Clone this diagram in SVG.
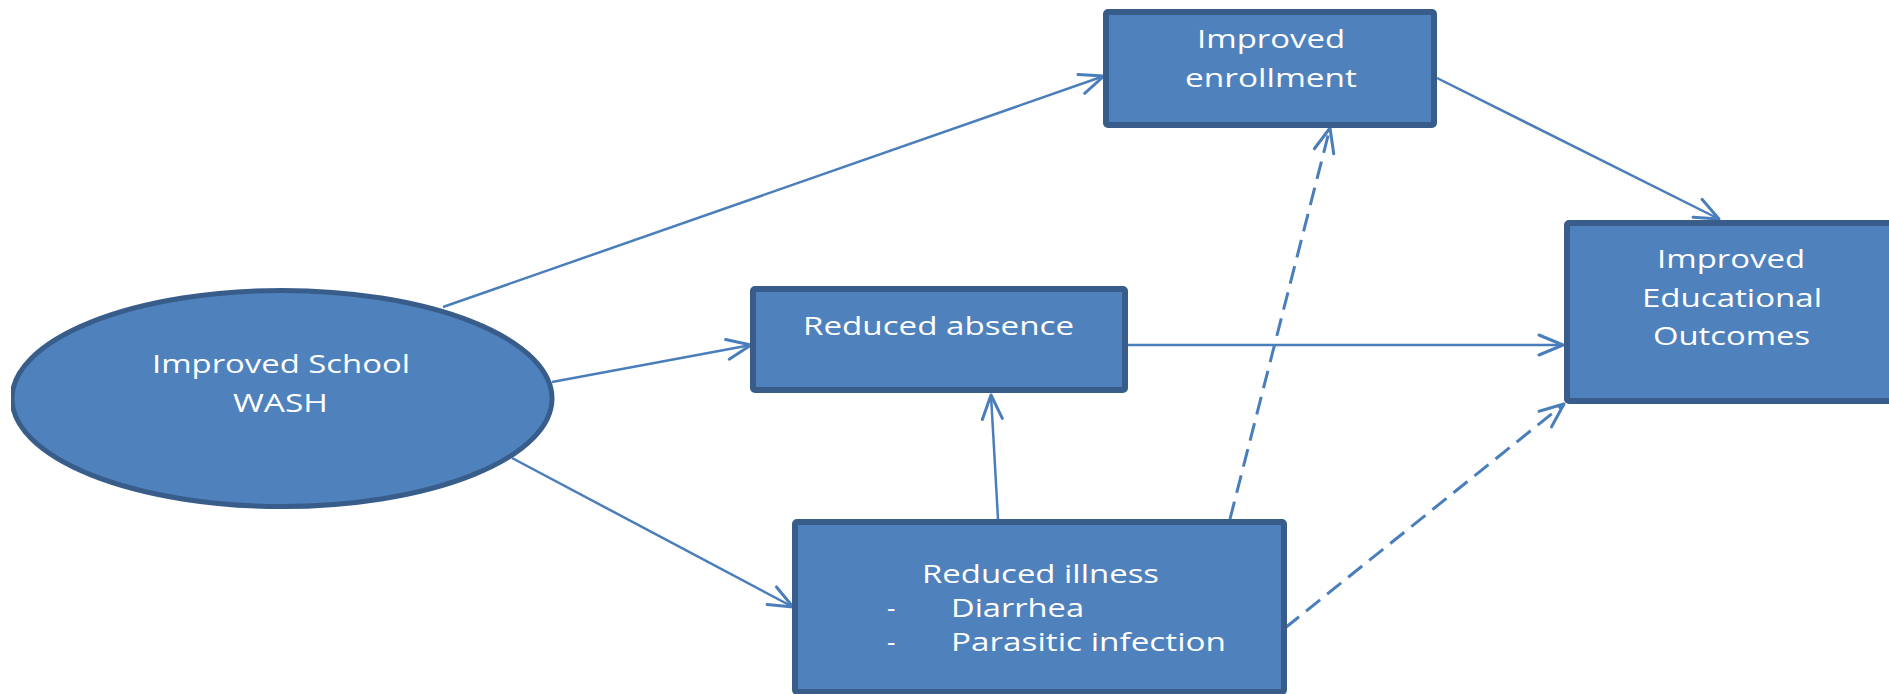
<svg xmlns="http://www.w3.org/2000/svg" width="1889" height="694" viewBox="0 0 1889 694">
<defs>
<style>
.node{fill:#4f81bd;stroke:#385d8a;stroke-width:6}
.ell{fill:#4f81bd;stroke:#385d8a;stroke-width:5}
.lbl{font-family:"Open Sans","DejaVu Sans",sans-serif;font-size:26px;fill:#ffffff}
.con{fill:none;stroke:#4a7ebb;stroke-width:2.5;marker-end:url(#arr)}
.dash{stroke-dasharray:18 9;stroke-width:3}
</style>
<marker id="arr" markerUnits="userSpaceOnUse" markerWidth="40" markerHeight="40" refX="0" refY="0" viewBox="-30 -20 40 40" orient="auto" overflow="visible">
<path d="M-24,-10 L0,0 L-24,10" fill="none" stroke="#4a7ebb" stroke-width="3" stroke-linecap="round" stroke-linejoin="round" stroke-dasharray="none"/>
</marker>
<clipPath id="clipL"><rect x="11" y="0" width="1878" height="694"/></clipPath>
</defs>
<rect width="1889" height="694" fill="#ffffff"/>
<g id="connectors">
<line class="con" x1="443" y1="307" x2="1104" y2="76"/>
<line class="con" x1="552" y1="382" x2="751" y2="345"/>
<line class="con" x1="512" y1="458" x2="793" y2="607"/>
<line class="con" x1="1128" y1="345" x2="1563" y2="345"/>
<line class="con" x1="1437" y1="78" x2="1719" y2="219"/>
<line class="con" x1="998" y1="519" x2="991" y2="395"/>
<line class="con dash" x1="1230" y1="519" x2="1330" y2="128"/>
<line class="con dash" x1="1285" y1="628" x2="1564" y2="404"/>
</g>
<g id="wash">
<ellipse class="ell" cx="282" cy="398.5" rx="270" ry="108" clip-path="url(#clipL)"/>
<text class="lbl" x="152" y="373" textLength="258" lengthAdjust="spacingAndGlyphs">Improved School</text>
<text class="lbl" x="233" y="412" textLength="95" lengthAdjust="spacingAndGlyphs">WASH</text>
</g>
<g id="enrollment">
<rect class="node" x="1106" y="12" width="328" height="113" rx="2"/>
<text class="lbl" x="1197" y="48" textLength="148" lengthAdjust="spacingAndGlyphs">Improved</text>
<text class="lbl" x="1185" y="87" textLength="172" lengthAdjust="spacingAndGlyphs">enrollment</text>
</g>
<g id="absence">
<rect class="node" x="753" y="289" width="372" height="101" rx="2"/>
<text class="lbl" x="803" y="335" textLength="271" lengthAdjust="spacingAndGlyphs">Reduced absence</text>
</g>
<g id="outcomes">
<rect class="node" x="1567" y="223" width="340" height="178" rx="2"/>
<text class="lbl" x="1657" y="268" textLength="148" lengthAdjust="spacingAndGlyphs">Improved</text>
<text class="lbl" x="1642" y="307" textLength="180" lengthAdjust="spacingAndGlyphs">Educational</text>
<text class="lbl" x="1653" y="345" textLength="157" lengthAdjust="spacingAndGlyphs">Outcomes</text>
</g>
<g id="illness">
<rect class="node" x="795" y="522" width="489" height="170" rx="2"/>
<text class="lbl" x="922" y="583" textLength="237" lengthAdjust="spacingAndGlyphs">Reduced illness</text>
<text class="lbl" x="887" y="617">-</text>
<text class="lbl" x="951" y="617" textLength="133" lengthAdjust="spacingAndGlyphs">Diarrhea</text>
<text class="lbl" x="887" y="651">-</text>
<text class="lbl" x="951" y="651" textLength="275" lengthAdjust="spacingAndGlyphs">Parasitic infection</text>
</g>
</svg>
